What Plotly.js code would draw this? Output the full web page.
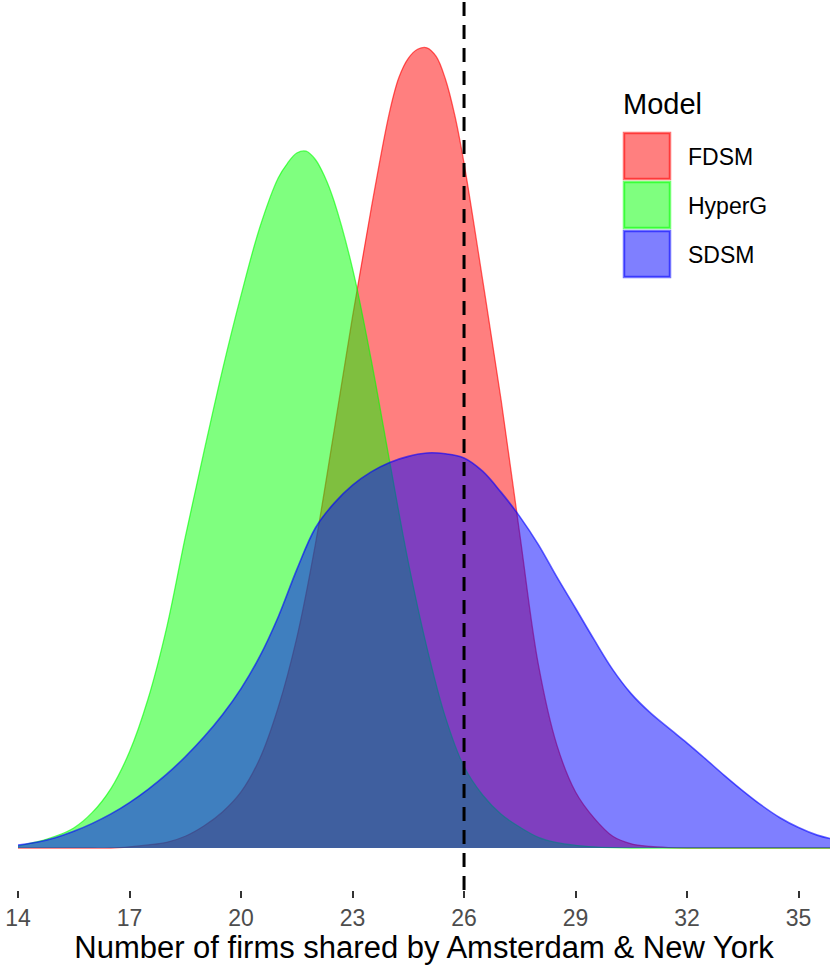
<!DOCTYPE html>
<html>
<head>
<meta charset="utf-8">
<script src="https://cdn.plot.ly/plotly-3.0.1.min.js"></script>
<style>html,body{margin:0;padding:0;background:#fff;}#chart{width:830px;height:965px;}</style>
</head>
<body>
<div id="chart"></div>
<script>
// ---- data (density estimates) ----
const xFDSM = [14,14.5,15,15.5,16,16.5,17,17.5,18,18.5,19,19.5,20,20.5,21,21.5,22,22.5,23,23.5,24,24.25,24.5,24.75,25,25.25,25.5,25.75,26,26.5,27,27.5,28,28.5,29,29.5,30,30.5,31,31.5,32,32.5,33,33.5,34,34.5,35,35.5,35.85];
const densFDSM = [0,0,0,0,0,0,0.0003,0.0008,0.0015,0.0031,0.0058,0.0095,0.0148,0.0235,0.0371,0.0555,0.0802,0.1099,0.1403,0.1687,0.1945,0.2035,0.2085,0.2109,0.2113,0.2090,0.2030,0.1935,0.1808,0.1500,0.1181,0.0828,0.0484,0.0271,0.0148,0.0079,0.0031,0.0011,0.0004,0.0001,0,0,0,0,0,0,0,0,0];
const xHyperG = [14,14.5,15,15.5,16,16.5,17,17.5,18,18.5,19,19.5,20,20.5,21,21.25,21.5,21.75,22,22.25,22.5,23,23.5,24,24.5,25,25.5,26,26.5,27,27.5,28,28.5,29,29.5,30,30.5,31,31.5,32,32.5,33,33.5,34,34.5,35,35.5,35.85];
const densHyperG = [0.0005,0.0016,0.0031,0.0053,0.0094,0.0157,0.0254,0.0394,0.0582,0.0821,0.1045,0.1262,0.1459,0.1637,0.1769,0.1808,0.1835,0.1840,0.1818,0.1773,0.1709,0.1530,0.1290,0.1020,0.0755,0.0530,0.0345,0.0215,0.0140,0.0089,0.0055,0.0028,0.0014,0.0007,0.0003,0.0001,0,0,0,0,0,0,0,0,0,0,0,0];
const xSDSM = [14,14.5,15,15.5,16,16.5,17,17.5,18,18.5,19,19.5,20,20.5,21,21.5,22,22.5,23,23.5,24,24.5,25,25.5,26,26.5,27,27.5,28,28.5,29,29.5,30,30.5,31,31.5,32,32.5,33,33.5,34,34.5,35,35.5,35.85];
const densSDSM = [0.0008,0.0015,0.0027,0.0044,0.0065,0.0090,0.0120,0.0155,0.0195,0.0241,0.0293,0.0352,0.0421,0.0505,0.0610,0.0735,0.0845,0.0910,0.0958,0.0993,0.1018,0.1034,0.1043,0.1041,0.1030,0.0995,0.0939,0.0875,0.0801,0.0715,0.0633,0.0550,0.0471,0.0407,0.0358,0.0317,0.0277,0.0235,0.0192,0.0151,0.0113,0.0080,0.0054,0.0034,0.0025];
const models = ['FDSM','HyperG','SDSM'];
const observed = 26;
const xTicks = [14,17,20,23,26,29,32,35];
const legendTitle = 'Model';
const xTitle = 'Number of firms shared by Amsterdam &amp; New York';

// ---- styling ----
const W = 830, H = 965, MB = 75, ML = 18;
const PH = H - MB, PW = W - ML;
const rgb = ['255,0,0','0,255,0','0,0,255'];
const xs = [xFDSM, xHyperG, xSDSM];
const series = [densFDSM, densHyperG, densSDSM];
const font = 'Liberation Sans, Arial, Helvetica, sans-serif';

const traces = series.map((d, i) => ({
  x: xs[i], y: d, type: 'scatter', mode: 'lines', name: models[i],
  line: {color: 'rgba(' + rgb[i] + ',0.6)', width: i === 2 ? 1.6 : 1.3, shape: 'spline', smoothing: 1},
  fill: 'tozeroy', fillcolor: 'rgba(' + rgb[i] + ',0.5)',
  showlegend: false, hoverinfo: 'skip', cliponaxis: true
}));

const ymax = 0.2115;
const pxPerUnit = (848 - 47) / ymax;
const yRange = [-(PH - 848) / pxPerUnit, 848 / pxPerUnit];
const xPx = 37.17;
const xRange = [14, 14 + PW / xPx];

const px = v => (v - ML) / PW;
const py = v => (PH - v) / PH;

const shapes = [{
  type: 'line', xref: 'x', yref: 'paper', x0: observed, x1: observed, y0: 0, y1: 1,
  line: {color: '#000', width: 3, dash: '14px,9px'}
}];
const annotations = [{
  xref: 'paper', yref: 'paper', x: px(621), y: py(104), xanchor: 'left', yanchor: 'middle',
  text: legendTitle, showarrow: false, font: {family: font, size: 29, color: '#000'}
}];
const keyTop = [133, 182, 231];
models.forEach((m, i) => {
  shapes.push({
    type: 'rect', xref: 'paper', yref: 'paper',
    x0: px(624), x1: px(670), y0: py(keyTop[i] + 46), y1: py(keyTop[i]),
    fillcolor: 'rgba(' + rgb[i] + ',0.5)', line: {color: 'rgba(' + rgb[i] + ',0.55)', width: 2.5}
  });
  annotations.push({
    xref: 'paper', yref: 'paper', x: px(686), y: py(keyTop[i] + 24), xanchor: 'left', yanchor: 'middle',
    text: m, showarrow: false, font: {family: font, size: 23, color: '#000'}
  });
});

const layout = {
  width: W, height: H,
  margin: {l: ML, r: 0, t: 0, b: MB, pad: 0},
  paper_bgcolor: '#fff', plot_bgcolor: '#fff',
  font: {family: font},
  showlegend: false,
  xaxis: {
    range: xRange, tickmode: 'array', tickvals: xTicks, ticktext: xTicks.map(String),
    ticks: 'outside', ticklen: 7, tickwidth: 2, tickcolor: '#333',
    tickfont: {family: font, size: 23, color: '#4D4D4D'},
    showgrid: false, zeroline: false, showline: false, fixedrange: true,
    title: {text: xTitle, font: {family: font, size: 31, color: '#000'}, standoff: 4}
  },
  yaxis: {range: yRange, visible: false, showgrid: false, zeroline: false, fixedrange: true},
  shapes: shapes,
  annotations: annotations
};

Plotly.newPlot('chart', traces, layout, {displayModeBar: false, staticPlot: true});
</script>
</body>
</html>
